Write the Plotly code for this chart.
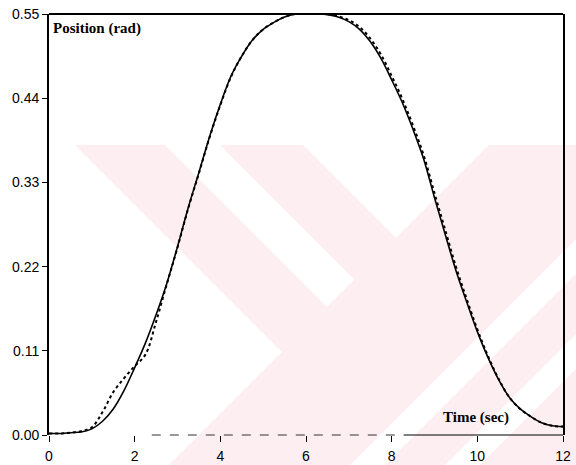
import plotly.graph_objects as go

# ---- data ----
time_solid = [0.0, 0.3, 0.5, 0.75, 1.0, 1.25, 1.5, 1.75, 2.0, 2.25, 2.5, 2.75, 3.0, 3.25, 3.5,
              3.75, 4.0, 4.25, 4.5, 4.75, 5.0, 5.25, 5.5, 5.75, 6.0, 6.25, 6.5, 6.75, 7.0,
              7.25, 7.5, 7.75, 8.0, 8.25, 8.5, 8.75, 9.0, 9.25, 9.5, 9.75, 10.0, 10.25,
              10.5, 10.75, 11.0, 11.25, 11.5, 11.75, 12.0]
pos_solid = [0.002, 0.002, 0.003, 0.004, 0.008, 0.018, 0.034, 0.058, 0.088, 0.12, 0.157, 0.198,
             0.246, 0.297, 0.343, 0.39, 0.432, 0.469, 0.495, 0.516, 0.53, 0.539, 0.546, 0.55,
             0.551, 0.551, 0.549, 0.546, 0.54, 0.53, 0.514, 0.492, 0.464, 0.434, 0.399,
             0.36, 0.31, 0.262, 0.215, 0.174, 0.135, 0.101, 0.072, 0.049, 0.034, 0.024,
             0.016, 0.012, 0.011]

time_dotted = [0.0, 0.3, 0.5, 0.75, 1.0, 1.25, 1.5, 1.75, 2.0, 2.25, 2.5, 2.75, 3.0, 3.25,
               3.5, 3.75, 4.0, 4.25, 4.5, 4.75, 5.0, 5.25, 5.5, 5.75, 6.0, 6.25, 6.5, 6.75,
               7.0, 7.25, 7.5, 7.75, 8.0, 8.25, 8.5, 8.75, 9.0, 9.25, 9.5, 9.75, 10.0,
               10.25, 10.5, 10.75, 11.0, 11.25, 11.5, 11.75, 12.0]
pos_dotted = [0.002, 0.002, 0.003, 0.005, 0.01, 0.03, 0.056, 0.074, 0.09, 0.105, 0.148, 0.197,
              0.245, 0.296, 0.342, 0.389, 0.431, 0.468, 0.495, 0.516, 0.53, 0.539, 0.546,
              0.55, 0.551, 0.551, 0.55, 0.547, 0.542, 0.533, 0.518, 0.497, 0.469, 0.439,
              0.404, 0.365, 0.316, 0.268, 0.22, 0.178, 0.138, 0.103, 0.073, 0.049, 0.034,
              0.024, 0.016, 0.012, 0.011]

x_ticks = [0, 2, 4, 6, 8, 10, 12]
y_ticks = [0.0, 0.11, 0.22, 0.33, 0.44, 0.55]
y_tick_labels = ["0.00", "0.11", "0.22", "0.33", "0.44", "0.55"]

# ---- layout geometry ----
W, H = 576, 465
L, R, T, B = 49, 563, 14, 435


def paper(px, py):
    return (px - L) / (R - L), (B - py) / (B - T)


# background watermark (pixel outlines of the pink stripes)
watermark = [
    [(75, 145), (165, 145), (327, 307), (282, 352)],
    [(220, 145), (303, 145), (396, 238), (354.5, 279.5)],
    [(489, 145), (576, 145), (576, 239), (350, 465), (169, 465)],
    [(576, 274), (576, 334), (445, 465), (385, 465)],
    [(576, 369), (576, 465), (480, 465)],
]

shapes = []
for poly in watermark:
    pts = [paper(x, y) for x, y in poly]
    path = "M " + " L ".join(f"{a:.5f},{b:.5f}" for a, b in pts) + " Z"
    shapes.append(dict(type="path", path=path, xref="paper", yref="paper",
                       fillcolor="#fdeef1", line=dict(width=0), layer="below"))

# frame: top solid, bottom partially dashed (as scanned)
shapes.append(dict(type="line", xref="paper", yref="paper", x0=0, x1=1, y0=1, y1=1,
                   line=dict(color="black", width=1.8)))
shapes.append(dict(type="line", xref="paper", yref="paper", x0=0.2, x1=0.69, y0=0, y1=0,
                   line=dict(color="#333", width=1, dash="dash")))
shapes.append(dict(type="line", xref="paper", yref="paper", x0=0.69, x1=1, y0=0, y1=0,
                   line=dict(color="black", width=1.2)))

fig = go.Figure()
fig.add_trace(go.Scatter(x=time_dotted, y=pos_dotted, mode="lines",
                         line=dict(color="black", width=2, dash="dot", shape="spline"),
                         showlegend=False))
fig.add_trace(go.Scatter(x=time_solid, y=pos_solid, mode="lines",
                         line=dict(color="black", width=1.6, shape="spline"),
                         showlegend=False))

fig.update_layout(
    width=W, height=H, autosize=False,
    margin=dict(l=L, r=W - R, t=T, b=H - B, pad=0),
    paper_bgcolor="white", plot_bgcolor="rgba(0,0,0,0)",
    shapes=shapes,
    font=dict(family="Arial, Liberation Sans, sans-serif", color="black"),
    annotations=[
        dict(text="<b>Position (rad)</b>", xref="paper", yref="paper",
             x=paper(51, 0)[0], y=paper(0, 28)[1], xanchor="left", yanchor="middle",
             showarrow=False,
             font=dict(family="Liberation Serif, serif", size=15, color="black")),
        dict(text="<b>Time (sec)</b>", xref="paper", yref="paper",
             x=paper(441, 0)[0], y=paper(0, 417)[1], xanchor="left", yanchor="middle",
             showarrow=False,
             font=dict(family="Liberation Serif, serif", size=15, color="black")),
    ],
)

fig.update_xaxes(range=[0, 12], tickvals=x_ticks, ticks="outside", ticklen=6,
                 tickcolor="black", tickwidth=1, showgrid=False, zeroline=False,
                 showline=False, tickfont=dict(size=14), ticklabelstandoff=2,
                 automargin=False)
fig.update_yaxes(range=[0, 0.55], tickvals=y_ticks, ticktext=y_tick_labels,
                 ticks="outside", ticklen=5, tickcolor="black", tickwidth=1,
                 showgrid=False, zeroline=False, showline=True, mirror=True,
                 linecolor="black", linewidth=1.8, tickfont=dict(size=14),
                 automargin=False)

fig.write_html("out.html")
